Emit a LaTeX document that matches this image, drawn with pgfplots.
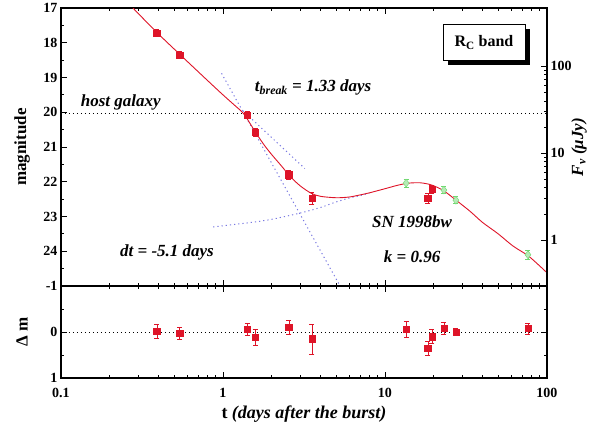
\documentclass[border=0pt]{standalone}
\usepackage{pgfplots}
\pgfplotsset{compat=1.18}
\usepackage{fontspec}
\setmainfont{Liberation Serif}
\definecolor{dred}{RGB}{222,20,40}
\definecolor{lgreen}{RGB}{110,215,110}
\definecolor{lblue}{RGB}{120,120,225}

\pgfplotstableread{
t m e
0.39 17.72 0.10
0.54 18.35 0.10
1.41 20.08 0.10
1.58 20.57 0.12
2.55 21.80 0.12
3.54 22.47 0.18
18.4 22.47 0.15
19.5 22.21 0.12
}\redpts
\pgfplotstableread{
t m e
13.5 22.04 0.12
23.1 22.24 0.10
27.4 22.53 0.10
76.3 24.10 0.12
}\greenpts
\pgfplotstableread{
t d e
0.39 -0.02 0.15
0.54 0.02 0.13
1.41 -0.06 0.13
1.58 0.11 0.17
2.55 -0.10 0.15
3.54 0.15 0.33
13.5 -0.06 0.18
18.4 0.35 0.15
19.5 0.10 0.15
23.1 -0.08 0.13
27.4 0.00 0.08
76.3 -0.08 0.12
}\resid

\begin{document}
\begin{tikzpicture}
\pgfplotsset{
  every axis/.append style={
    scale only axis, width=486pt,
    xmode=log, xmin=0.1, xmax=100,
    tick align=inside,
    /pgf/number format/assume math mode=true,
    tick label style={font=\fontsize{14}{16}\selectfont\bfseries},
    label style={font=\fontsize{17}{19}\selectfont\bfseries},
    axis line style={line width=1.4pt},
    major tick length=6pt, minor tick length=3pt,
    every tick/.style={black, line width=0.8pt},
  }
}
% ---------- top panel ----------
\begin{axis}[name=top, at={(0,0)}, anchor=south west, height=278pt,
  ymin=17, ymax=25, y dir=reverse,
  ytick={17,...,24}, minor ytick={17.5,18.5,...,24.5},
  ytick pos=left,
  xtick={0.1,1,10,100}, xticklabel=\empty,
  ylabel={magnitude},
  ylabel style={at={(axis description cs:-0.080,0.5)}, anchor=center},
  clip=true]
\addplot[black, line width=0.7pt, dash pattern=on 1.2pt off 2.8pt] coordinates {(0.1,20.02) (100,20.02)};
% power-law extensions and SN component
\addplot[lblue, line width=1pt, dash pattern=on 1.2pt off 3pt] coordinates {(0.98,18.88) (5.28,25.0)};
\addplot[lblue, line width=1pt, dash pattern=on 1.2pt off 3pt] coordinates {(1.33,19.96) (3.2,21.62)};
\addplot[lblue, line width=1pt, dash pattern=on 1.2pt off 3pt, smooth] coordinates {
(0.87,23.30) (1.5,23.17) (2.0,23.08) (3.0,22.90) (4.0,22.74) (5.0,22.58) (6.0,22.47) (7.0,22.40) (8.0,22.33)};
% model curve
\addplot[dred, line width=0.9pt, smooth] coordinates {
(0.278,17.0) (0.39,17.70) (0.54,18.33) (0.8,19.08) (1.0,19.50) (1.2,19.83) (1.33,20.02)
(1.45,20.28) (1.6,20.60) (1.8,20.95) (2.0,21.22) (2.3,21.55) (2.6,21.85) (3.0,22.12)
(3.5,22.33) (4.0,22.42) (5.0,22.46) (6.0,22.44) (7.0,22.38) (8.0,22.32) (10,22.20)
(12,22.10) (14,22.04) (16.5,22.03) (19,22.08) (21,22.16) (23.4,22.28) (27.8,22.55)
(33.5,22.85) (40,23.17) (50,23.50) (61.7,23.85) (76,24.12) (90,24.42) (100,24.62)};
\addplot[only marks, mark=square*, mark size=3.2pt, dred, mark options={fill=dred},
  error bars/.cd, y dir=both, y explicit, error mark options={rotate=90, mark size=2.5pt, dred}]
  table[x=t, y=m, y error=e] {\redpts};
\addplot[only marks, mark=diamond*, mark size=4pt, lgreen, mark options={fill=lgreen!50!white},
  error bars/.cd, y dir=both, y explicit, error mark options={rotate=90, mark size=2.5pt, lgreen}]
  table[x=t, y=m, y error=e] {\greenpts};
% texts
\node[font=\fontsize{17}{19}\selectfont\bfseries\itshape] at (axis cs:0.234,19.72) {host galaxy};
\node[font=\fontsize{17}{19}\selectfont\bfseries\itshape] at (axis cs:3.6,19.30) {t\textsubscript{break} = 1.33 days};
\node[font=\fontsize{17}{19}\selectfont\bfseries\itshape] at (axis cs:0.451,24.02) {dt = -5.1 days};
\node[font=\fontsize{17}{19}\selectfont\bfseries\itshape] at (axis cs:14.7,23.16) {SN 1998bw};
\node[font=\fontsize{17}{19}\selectfont\bfseries\itshape] at (axis cs:14.7,24.17) {k = 0.96};
\node[fill=black, minimum width=82pt, minimum height=36pt, inner sep=0pt] at ([xshift=5pt,yshift=-5pt]axis cs:40.8,17.99) {};
\node[draw, fill=white, line width=0.8pt, minimum width=82pt, minimum height=36pt, inner sep=0pt,
  font=\fontsize{16}{18}\selectfont\bfseries] at (axis cs:40.8,17.99) {R\textsubscript{C} band};
\end{axis}
% ---------- right flux axis ----------
\begin{axis}[at={(0,0)}, anchor=south west, height=278pt,
  ymode=log, ymin=0.2965, ymax=469.9,
  axis y line*=right, axis x line=none,
  ytick={1,10,100}, yticklabels={1,10,100},
  ylabel={\itshape F\textsubscript{ν} (μJy)},
  ylabel style={at={(axis description cs:1.066,0.5)}, anchor=center}]
\end{axis}
% ---------- residual panel ----------
\begin{axis}[name=bot, at={(top.south west)}, anchor=north west, height=92pt,
  ymin=-1, ymax=1, y dir=reverse,
  ytick={-1,0,1}, minor ytick={-0.5,0.5},
  xtick={0.1,1,10,100}, xticklabels={0.1,1,10,100},
  xticklabel style={yshift=-7pt},
  xlabel={t \itshape (days after the burst)},
  xlabel style={font=\fontsize{18}{20}\selectfont\bfseries, yshift=-1pt},
  ylabel={Δ m},
  ylabel style={at={(axis description cs:-0.080,0.5)}, anchor=center}]
\addplot[black, line width=0.7pt, dash pattern=on 1.2pt off 2.8pt] coordinates {(0.1,0) (100,0)};
\addplot[only marks, mark=square*, mark size=3.2pt, dred, mark options={fill=dred},
  error bars/.cd, y dir=both, y explicit, error mark options={rotate=90, mark size=2.5pt, dred}]
  table[x=t, y=d, y error=e] {\resid};
\end{axis}
\pgfresetboundingbox
\path (-61pt,-141pt) rectangle (544pt,286pt);
\end{tikzpicture}
\end{document}
